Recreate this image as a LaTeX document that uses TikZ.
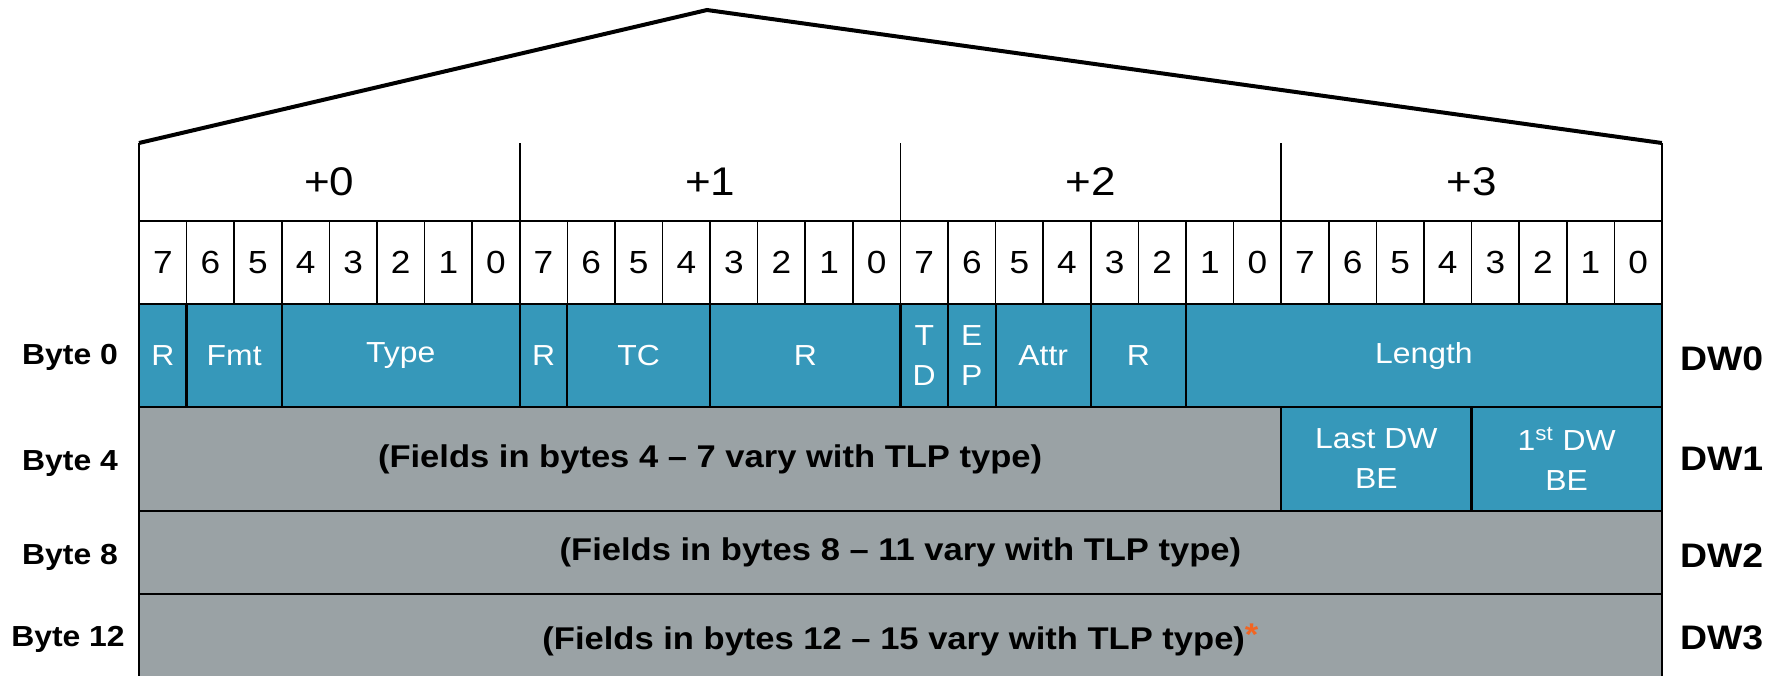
\documentclass[tikz,border=0pt]{standalone}
\usepackage{fontspec}
\setmainfont{Liberation Sans}[FakeStretch=1.1]
\definecolor{tlpblue}{RGB}{54,152,186}
\definecolor{tlpgrey}{RGB}{154,162,165}
\definecolor{astorange}{RGB}{242,101,34}

% field box: #1 name, #2 style, #3 first bit column, #4 number of bits,
% #5 top (px), #6 bottom (px), #7 text
\newcommand\tlpfield[7]{%
  \node[#2, minimum width={#4*23.795pt}, minimum height={(#6-#5)*0.5pt},
        anchor=north west] (#1) at ({139+#3*47.59},#5) {#7};}

\begin{document}
\begin{tikzpicture}[x=0.5pt,y=-0.5pt,
  every node/.style={inner sep=0pt, outer sep=0pt},
  bitcell/.style={draw=black, line width=0.8pt, minimum width=23.795pt,
    minimum height=41.5pt, font=\fontsize{16}{19}\selectfont},
  bytehead/.style={font=\fontsize{20}{24}\selectfont},
  bluef/.style={fill=tlpblue, draw=black, line width=1.1pt, text=white,
    align=center, font=\fontsize{14.5}{20}\selectfont},
  greyf/.style={fill=tlpgrey, draw=black, line width=1.1pt, align=center,
    font=\bfseries\fontsize{15.7}{18}\selectfont},
  rowlab/.style={font=\bfseries\fontsize{14.5}{17}\selectfont},
  dwlab/.style={anchor=west, font=\bfseries\fontsize{17}{20}\selectfont},
  divider/.style={line width=0.85pt},
  rowrule/.style={line width=1.4pt},
  roof/.style={line width=2pt, line join=miter}]

\useasboundingbox (0,0) rectangle (1783,675);

% byte offset headers
\foreach \k in {0,...,3}
  \node[bytehead, minimum width=8*23.795pt, minimum height=39pt,
        anchor=north west] (hd\k) at ({139+\k*8*47.59},143) {+\k};

% bit numbers
\foreach \i in {0,...,31} {
  \pgfmathtruncatemacro\bitnum{7-mod(\i,8)}
  \node[bitcell, anchor=north west] (bit\i) at ({139+\i*47.59},221) {\bitnum};
}

% DW0
\tlpfield{r0a}{bluef}{0}{1}{304}{407}{R}
\tlpfield{fmt}{bluef}{1}{2}{304}{407}{Fmt}
\tlpfield{type}{bluef}{3}{5}{304}{407}{Type}
\tlpfield{r0b}{bluef}{8}{1}{304}{407}{R}
\tlpfield{tc}{bluef}{9}{3}{304}{407}{TC}
\tlpfield{r0c}{bluef}{12}{4}{304}{407}{R}
\tlpfield{td}{bluef}{16}{1}{304}{407}{T\\D}
\tlpfield{ep}{bluef}{17}{1}{304}{407}{E\\P}
\tlpfield{attr}{bluef}{18}{2}{304}{407}{Attr}
\tlpfield{r0d}{bluef}{20}{2}{304}{407}{R}
\tlpfield{len}{bluef}{22}{10}{304}{407}{Length}

% DW1
\tlpfield{dwa}{greyf}{0}{24}{407}{511}{(Fields in bytes 4 – 7 vary with TLP type)}
\tlpfield{lbe}{bluef}{24}{4}{407}{511}{Last DW\\BE}
\tlpfield{fbe}{bluef}{28}{4}{407}{511}{1\textsuperscript{st} DW\\BE}

% DW2, DW3
\tlpfield{dwb}{greyf}{0}{32}{511}{594}{(Fields in bytes 8 – 11 vary with TLP type)}
\tlpfield{dwc}{greyf}{0}{32}{594}{686}{(Fields in bytes 12 – 15 vary with TLP type)\textcolor{astorange}{\raisebox{2pt}{*}}}

% heavier rules between the rows
\draw[rowrule] (r0a.north west) -- (len.north east);
\draw[rowrule] (dwa.north west) -- (fbe.north east);
\draw[rowrule] (dwb.north west) -- (dwb.north east);
\draw[rowrule] (dwc.north west) -- (dwc.north east);

% header dividers and outer edges
\draw[divider] (hd0.north west) -- (dwc.south west);
\draw[divider] (hd3.north east) -- (dwc.south east);
\foreach \k in {1,2,3}
  \draw[divider] (hd\k.north west) -- (hd\k.south west);

% roof over the header
\coordinate (apex) at (707,10);
\draw[roof] (hd0.north west) -- (apex) -- (hd3.north east);

% row labels
\node[rowlab] (by0) at (70,357) {Byte 0};
\node[rowlab] (by4) at (70,464) {Byte 4};
\node[rowlab] (by8) at (70,557) {Byte 8};
\node[rowlab] (by12) at (68,639) {Byte 12};

\node[dwlab] (dw0) at (1680,359) {DW0};
\node[dwlab] (dw1) at (1680,459) {DW1};
\node[dwlab] (dw2) at (1680,556) {DW2};
\node[dwlab] (dw3) at (1680,638) {DW3};
\end{tikzpicture}
\end{document}
